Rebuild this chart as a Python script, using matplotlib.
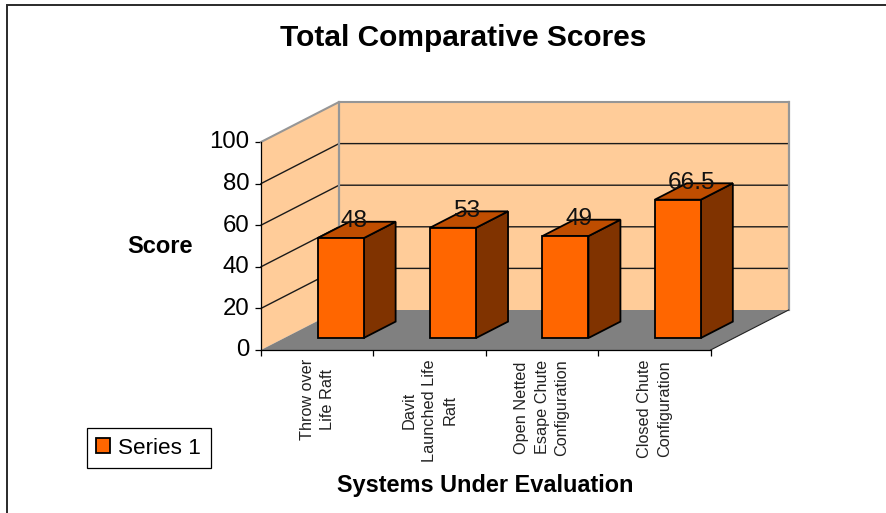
import matplotlib
matplotlib.use("Agg")
import matplotlib.pyplot as plt
from matplotlib.patches import Polygon, Patch
from matplotlib.transforms import ScaledTranslation

plt.rcParams['font.family'] = ['Liberation Sans', 'DejaVu Sans']

categories = ["Throw over\nLife Raft",
              "Davit\nLaunched Life\nRaft",
              "Open Netted\nEsape Chute\nConfiguration",
              "Closed Chute\nConfiguration"]
scores = [48, 53, 49, 66.5]
value_labels = ["48", "53", "49", "66.5"]
score_ticks = [0, 20, 40, 60, 80, 100]
series_name = "Series 1"

# oblique projection: depth z (0 front, 1 back) shifts a point right and up
DEPTH_X = 0.694
DEPTH_Y = 19.23


def project(x, y, z):
    return x + DEPTH_X * z, y + DEPTH_Y * z


W, H = 887, 513
fig = plt.figure(figsize=(W / 100, H / 100), dpi=100, facecolor="white")

# outer chart frame
frame = plt.Rectangle((7 / W, -2 / H), (W + 5) / W, (H - 4.5 + 2) / H,
                      transform=fig.transFigure, fill=False,
                      edgecolor="#2a2a2a", linewidth=1.4)
fig.add_artist(frame)

ax = fig.add_axes([261 / W, (H - 350) / H, 449.6 / W, 208 / H])
ax.set_xlim(0, len(categories))
ax.set_ylim(0, 100)
ax.patch.set_visible(False)


def face(points, color, edge="none", lw=0.0, z=1):
    ax.add_patch(Polygon([project(*p) for p in points], closed=True,
                         facecolor=color, edgecolor=edge, linewidth=lw,
                         zorder=z, clip_on=False, joinstyle="miter"))


n = len(categories)
WALL = "#FFCC99"
FLOOR = "#808080"
WALL_EDGE = "#969696"

# walls and floor
face([(0, 0, 0), (0, 100, 0), (0, 100, 1), (0, 0, 1)], WALL, z=1)
face([(0, 0, 1), (0, 100, 1), (n, 100, 1), (n, 0, 1)], WALL, z=1)
face([(0, 0, 0), (0, 0, 1), (n, 0, 1), (n, 0, 0)], FLOOR, z=1)

# gridlines across the side wall and back wall
for t in score_ticks[1:]:
    xs, ys = zip(project(0, t, 0), project(0, t, 1), project(n, t, 1))
    colour = WALL_EDGE if t == 100 else "#1a1a1a"
    ax.plot(xs, ys, color=colour, lw=1.0 if t != 100 else 1.5, zorder=2,
            clip_on=False, solid_joinstyle="miter")

# wall outline
xs, ys = zip(project(0, 100, 1), project(0, 0, 1))
ax.plot(xs, ys, color=WALL_EDGE, lw=1.6, zorder=2, clip_on=False)
xs, ys = zip(project(n, 0, 1), project(n, 100, 1))
ax.plot(xs, ys, color=WALL_EDGE, lw=1.6, zorder=2, clip_on=False)
xs, ys = zip(project(n, 0, 0), project(n, 0, 1))
ax.plot(xs, ys, color="#222222", lw=0.8, zorder=2, clip_on=False)

# bars
BAR_WIDTH = 0.41
Z0, Z1 = 0.30, 0.71
FRONT, TOP, SIDE = "#FF6600", "#BF4D00", "#803300"
for i, v in enumerate(scores):
    c = i + 0.5
    x0, x1 = c - BAR_WIDTH / 2, c + BAR_WIDTH / 2
    face([(x1, 0, Z0), (x1, v, Z0), (x1, v, Z1), (x1, 0, Z1)], SIDE, "black", 1.3, 3)
    face([(x0, v, Z0), (x1, v, Z0), (x1, v, Z1), (x0, v, Z1)], TOP, "black", 1.3, 3)
    face([(x0, 0, Z0), (x1, 0, Z0), (x1, v, Z0), (x0, v, Z0)], FRONT, "black", 1.3, 3)
    ax.annotate(value_labels[i], xy=project(c, v, Z0), xytext=(10, 12.3),
                textcoords="offset points", ha="center", va="center",
                fontsize=17.6, color="#111111", zorder=5, annotation_clip=False)

# axes, ticks and labels
for side in ("top", "right"):
    ax.spines[side].set_visible(False)
for side in ("left", "bottom"):
    ax.spines[side].set_linewidth(0.9)
    ax.spines[side].set_zorder(4)
ax.set_yticks(score_ticks)
ax.set_yticklabels([str(t) for t in score_ticks], fontsize=17.3)
ax.tick_params(axis="y", length=4, width=0.9, pad=4.5, color="black")
nudge = ScaledTranslation(0, 2 / 100, fig.dpi_scale_trans)
for lab in ax.get_yticklabels():
    lab.set_transform(lab.get_transform() + nudge)
ax.set_xticks(range(n + 1))
ax.set_xticklabels([])
ax.tick_params(axis="x", which="major", length=4, width=0.9)
ax.set_xticks([i + 0.5 for i in range(n)], minor=True)
ax.set_xticklabels(categories, minor=True, rotation=90, ha="center", va="top",
                   multialignment="center", fontsize=11.7, linespacing=1.42,
                   color="#222222")
ax.tick_params(axis="x", which="minor", length=0, pad=6.5)

fig.text(463 / W, 1 - 37.5 / H, "Total Comparative Scores", ha="center", va="center",
         fontsize=21.5, fontweight="bold")
fig.text(160 / W, 1 - 246.5 / H, "Score", ha="center", va="center",
         fontsize=17, fontweight="bold")
fig.text(485 / W, 1 - 485.5 / H, "Systems Under Evaluation", ha="center", va="center",
         fontsize=16.9, fontweight="bold")

# legend
handle = Patch(facecolor=FRONT, edgecolor="black", linewidth=1.3)
leg = ax.legend(handles=[handle], labels=[series_name], loc="lower left",
                bbox_to_anchor=(87 / W, (H - 468) / H), bbox_transform=fig.transFigure,
                borderaxespad=0, fontsize=16.2, fancybox=False, framealpha=1,
                edgecolor="black", handlelength=0.62, handleheight=0.62,
                handletextpad=0.36, borderpad=0.42)
leg.get_frame().set_linewidth(0.9)

fig.savefig("out.png", dpi=100)
